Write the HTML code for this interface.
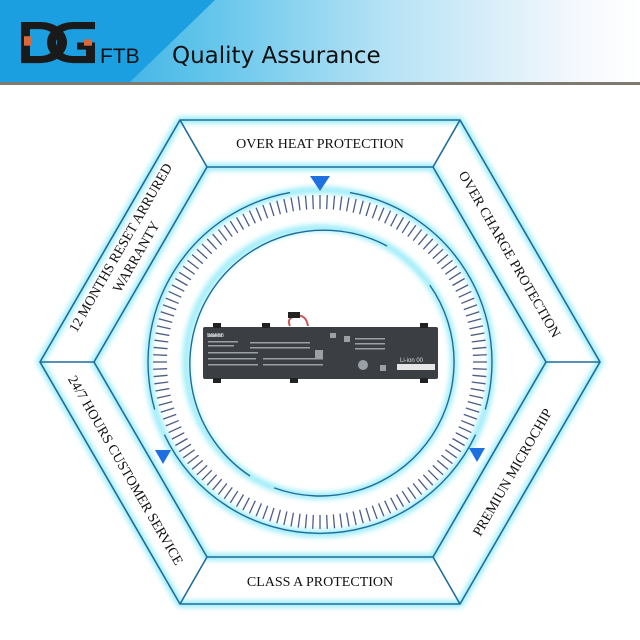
<!DOCTYPE html>
<html><head><meta charset="utf-8"><style>
html,body{margin:0;padding:0;background:#fff}
svg{display:block}
</style></head><body>
<svg width="640" height="640" viewBox="0 0 640 640" xmlns="http://www.w3.org/2000/svg">
<defs>
<linearGradient id="hd" x1="0" y1="0" x2="1" y2="0">
<stop offset="0" stop-color="#1b9fe0"/><stop offset="0.3" stop-color="#5cc2ea"/><stop offset="0.6" stop-color="#b5e2f5"/><stop offset="0.9" stop-color="#f4f8fd"/><stop offset="1" stop-color="#fff"/>
</linearGradient>
<filter id="glow" x="-10%" y="-10%" width="120%" height="120%"><feGaussianBlur stdDeviation="3"/></filter>
</defs>
<rect x="0" y="0" width="640" height="82" fill="url(#hd)"/>
<polygon points="0,0 215,0 130,82 0,82" fill="#1b9fe0"/>
<rect x="0" y="82" width="640" height="3" fill="#7f7a70"/>
<!-- logo -->
<g transform="translate(0,22) scale(1,0.79) translate(0,-27)">
<path d="M21 27 h20 a18 18 0 0 1 0 52 h-20 z M30 36 v34 h10 a9 9 0 0 0 0 -34 z" fill="#1a1a1a" fill-rule="evenodd"/>
<path d="M95 27 h-22 a18 18 0 0 0 0 52 h22 v-26 h-18 v9 h9 v8 h-13 a9 9 0 0 1 0 -34 h22 z" fill="#1a1a1a"/>
<rect x="24" y="45" width="7" height="12" fill="#d9683a"/>
<rect x="84" y="49" width="8" height="8" fill="#d9683a"/>
</g>
<text x="100" y="63" font-family="Liberation Sans, sans-serif" font-size="21" fill="#111">FTB</text>
<text x="172" y="63" font-family="DejaVu Sans, sans-serif" font-size="23" fill="#111">Quality Assurance</text>

<!-- glow -->
<g filter="url(#glow)" stroke="#6ee4f5" stroke-width="6" fill="none" opacity="0.8">
<polygon points="180,120 460,120 600,362 460,604 180,604 40,362"/>
<polygon points="207,167 433,167 546,362 433,557 207,557 94,362"/>
<circle cx="320" cy="362" r="172"/>
<circle cx="320" cy="362" r="134"/>
</g>
<g stroke="#1f6c9a" stroke-width="1.6" fill="none">
<polygon points="180,120 460,120 600,362 460,604 180,604 40,362"/>
<polygon points="207,167 433,167 546,362 433,557 207,557 94,362"/>
<line x1="180" y1="120" x2="207" y2="167"/><line x1="460" y1="120" x2="433" y2="167"/>
<line x1="600" y1="362" x2="546" y2="362"/><line x1="460" y1="604" x2="433" y2="557"/>
<line x1="180" y1="604" x2="207" y2="557"/><line x1="40" y1="362" x2="94" y2="362"/>
</g>
<g stroke="#1f6c9a" stroke-width="1.4" fill="none">
<path d="M349.9 192.6 A172 172 0 0 1 485.3 409.4"/>
<path d="M475.6 434.7 A172 172 0 0 1 164.4 434.7"/>
<path d="M154.7 409.4 A172 172 0 0 1 290.1 192.6"/>
<path d="M429.8 285.1 A134 134 0 0 1 274.2 487.9"/>
<path d="M250 476 A134 134 0 0 1 387 246"/>
</g>
<g fill="#1e6fe0">
<polygon points="310,176 330,176 320,191"/>
<polygon points="155,450 171,450 163,464"/>
<polygon points="469,448 485,448 477,462"/>
</g>
<!-- battery -->
<g>
<path d="M290 326 q-4 -8 6 -10 q10 -2 12 10" stroke="#c55" stroke-width="2" fill="none"/>
<rect x="288" y="312" width="12" height="6" fill="#222"/>
<rect x="203" y="327" width="235" height="52" rx="2" fill="#3b3e43"/>
<rect x="213" y="323" width="8" height="5" fill="#222"/><rect x="262" y="323" width="8" height="5" fill="#222"/><rect x="420" y="323" width="8" height="5" fill="#222"/>
<rect x="213" y="378" width="8" height="5" fill="#222"/><rect x="290" y="378" width="8" height="5" fill="#222"/><rect x="420" y="378" width="8" height="5" fill="#222"/>
<g fill="#9aa0a6">
<rect x="208" y="334" width="14" height="3"/><rect x="208" y="341" width="30" height="1.5"/><rect x="208" y="345" width="26" height="1.5"/><rect x="208" y="352" width="50" height="1.5"/><rect x="208" y="358" width="48" height="1.5"/><rect x="208" y="364" width="50" height="1.5"/>
<rect x="250" y="342" width="60" height="1.5"/><rect x="250" y="347" width="60" height="1.5"/><rect x="263" y="358" width="60" height="1.5"/><rect x="263" y="364" width="60" height="1.5"/>
<rect x="315" y="350" width="8" height="8"/><rect x="330" y="333" width="6" height="5"/>
<rect x="344" y="336" width="6" height="6"/><rect x="355" y="338" width="30" height="1.5"/><rect x="355" y="343" width="30" height="1.5"/><rect x="355" y="348" width="30" height="1.5"/>
<circle cx="363" cy="365" r="5"/><rect x="380" y="365" width="6" height="6"/>
<rect x="397" y="364" width="38" height="6" fill="#e6e6e6"/>
</g>
<text x="400" y="362" font-family="Liberation Sans, sans-serif" font-size="6" fill="#ddd">Li-ion 00</text>
<text x="207" y="337" font-family="Liberation Sans, sans-serif" font-size="5" fill="#ddd">DGFTB</text>
</g>
<!-- labels -->
<g font-family="Liberation Serif, serif" font-size="14" fill="#111" text-anchor="middle">
<text x="320" y="148">OVER HEAT PROTECTION</text>
<text x="320" y="586">CLASS A PROTECTION</text>
<g transform="translate(128 252) rotate(-60)"><text x="0" y="-4">12 MONTHS RESET ARRURED</text><text x="0" y="14">WARRANTY</text></g>
<g transform="translate(510 254) rotate(60)"><text x="0" y="5">OVER CHARGE PROTECTION</text></g>
<g transform="translate(126 470) rotate(60)"><text x="0" y="5">24/7 HOURS CUSTOMER SERVICE</text></g>
<g transform="translate(512 472) rotate(-60)"><text x="0" y="5">PREMIUN MICROCHIP</text></g>
</g>
<g stroke="#4d5c85" stroke-width="1.3" transform="translate(320 362)">
<line x1="0" y1="-153" x2="0" y2="-167" transform="rotate(0)"/><line x1="0" y1="-153" x2="0" y2="-167" transform="rotate(2.5)"/><line x1="0" y1="-153" x2="0" y2="-167" transform="rotate(5)"/><line x1="0" y1="-153" x2="0" y2="-167" transform="rotate(7.5)"/><line x1="0" y1="-153" x2="0" y2="-167" transform="rotate(10)"/><line x1="0" y1="-153" x2="0" y2="-167" transform="rotate(12.5)"/><line x1="0" y1="-153" x2="0" y2="-167" transform="rotate(15)"/><line x1="0" y1="-153" x2="0" y2="-167" transform="rotate(17.5)"/><line x1="0" y1="-153" x2="0" y2="-167" transform="rotate(20)"/><line x1="0" y1="-153" x2="0" y2="-167" transform="rotate(22.5)"/><line x1="0" y1="-153" x2="0" y2="-167" transform="rotate(25)"/><line x1="0" y1="-153" x2="0" y2="-167" transform="rotate(27.5)"/><line x1="0" y1="-153" x2="0" y2="-167" transform="rotate(30)"/><line x1="0" y1="-153" x2="0" y2="-167" transform="rotate(32.5)"/><line x1="0" y1="-153" x2="0" y2="-167" transform="rotate(35)"/><line x1="0" y1="-153" x2="0" y2="-167" transform="rotate(37.5)"/><line x1="0" y1="-153" x2="0" y2="-167" transform="rotate(40)"/><line x1="0" y1="-153" x2="0" y2="-167" transform="rotate(42.5)"/><line x1="0" y1="-153" x2="0" y2="-167" transform="rotate(45)"/><line x1="0" y1="-153" x2="0" y2="-167" transform="rotate(47.5)"/><line x1="0" y1="-153" x2="0" y2="-167" transform="rotate(50)"/><line x1="0" y1="-153" x2="0" y2="-167" transform="rotate(52.5)"/><line x1="0" y1="-153" x2="0" y2="-167" transform="rotate(55)"/><line x1="0" y1="-153" x2="0" y2="-167" transform="rotate(57.5)"/><line x1="0" y1="-153" x2="0" y2="-167" transform="rotate(60)"/><line x1="0" y1="-153" x2="0" y2="-167" transform="rotate(62.5)"/><line x1="0" y1="-153" x2="0" y2="-167" transform="rotate(65)"/><line x1="0" y1="-153" x2="0" y2="-167" transform="rotate(67.5)"/><line x1="0" y1="-153" x2="0" y2="-167" transform="rotate(70)"/><line x1="0" y1="-153" x2="0" y2="-167" transform="rotate(72.5)"/><line x1="0" y1="-153" x2="0" y2="-167" transform="rotate(75)"/><line x1="0" y1="-153" x2="0" y2="-167" transform="rotate(77.5)"/><line x1="0" y1="-153" x2="0" y2="-167" transform="rotate(80)"/><line x1="0" y1="-153" x2="0" y2="-167" transform="rotate(82.5)"/><line x1="0" y1="-153" x2="0" y2="-167" transform="rotate(85)"/><line x1="0" y1="-153" x2="0" y2="-167" transform="rotate(87.5)"/><line x1="0" y1="-153" x2="0" y2="-167" transform="rotate(90)"/><line x1="0" y1="-153" x2="0" y2="-167" transform="rotate(92.5)"/><line x1="0" y1="-153" x2="0" y2="-167" transform="rotate(95)"/><line x1="0" y1="-153" x2="0" y2="-167" transform="rotate(97.5)"/><line x1="0" y1="-153" x2="0" y2="-167" transform="rotate(100)"/><line x1="0" y1="-153" x2="0" y2="-167" transform="rotate(102.5)"/><line x1="0" y1="-153" x2="0" y2="-167" transform="rotate(105)"/><line x1="0" y1="-153" x2="0" y2="-167" transform="rotate(107.5)"/><line x1="0" y1="-153" x2="0" y2="-167" transform="rotate(110)"/><line x1="0" y1="-153" x2="0" y2="-167" transform="rotate(112.5)"/><line x1="0" y1="-153" x2="0" y2="-167" transform="rotate(115)"/><line x1="0" y1="-153" x2="0" y2="-167" transform="rotate(117.5)"/><line x1="0" y1="-153" x2="0" y2="-167" transform="rotate(120)"/><line x1="0" y1="-153" x2="0" y2="-167" transform="rotate(122.5)"/><line x1="0" y1="-153" x2="0" y2="-167" transform="rotate(125)"/><line x1="0" y1="-153" x2="0" y2="-167" transform="rotate(127.5)"/><line x1="0" y1="-153" x2="0" y2="-167" transform="rotate(130)"/><line x1="0" y1="-153" x2="0" y2="-167" transform="rotate(132.5)"/><line x1="0" y1="-153" x2="0" y2="-167" transform="rotate(135)"/><line x1="0" y1="-153" x2="0" y2="-167" transform="rotate(137.5)"/><line x1="0" y1="-153" x2="0" y2="-167" transform="rotate(140)"/><line x1="0" y1="-153" x2="0" y2="-167" transform="rotate(142.5)"/><line x1="0" y1="-153" x2="0" y2="-167" transform="rotate(145)"/><line x1="0" y1="-153" x2="0" y2="-167" transform="rotate(147.5)"/><line x1="0" y1="-153" x2="0" y2="-167" transform="rotate(150)"/><line x1="0" y1="-153" x2="0" y2="-167" transform="rotate(152.5)"/><line x1="0" y1="-153" x2="0" y2="-167" transform="rotate(155)"/><line x1="0" y1="-153" x2="0" y2="-167" transform="rotate(157.5)"/><line x1="0" y1="-153" x2="0" y2="-167" transform="rotate(160)"/><line x1="0" y1="-153" x2="0" y2="-167" transform="rotate(162.5)"/><line x1="0" y1="-153" x2="0" y2="-167" transform="rotate(165)"/><line x1="0" y1="-153" x2="0" y2="-167" transform="rotate(167.5)"/><line x1="0" y1="-153" x2="0" y2="-167" transform="rotate(170)"/><line x1="0" y1="-153" x2="0" y2="-167" transform="rotate(172.5)"/><line x1="0" y1="-153" x2="0" y2="-167" transform="rotate(175)"/><line x1="0" y1="-153" x2="0" y2="-167" transform="rotate(177.5)"/><line x1="0" y1="-153" x2="0" y2="-167" transform="rotate(180)"/><line x1="0" y1="-153" x2="0" y2="-167" transform="rotate(182.5)"/><line x1="0" y1="-153" x2="0" y2="-167" transform="rotate(185)"/><line x1="0" y1="-153" x2="0" y2="-167" transform="rotate(187.5)"/><line x1="0" y1="-153" x2="0" y2="-167" transform="rotate(190)"/><line x1="0" y1="-153" x2="0" y2="-167" transform="rotate(192.5)"/><line x1="0" y1="-153" x2="0" y2="-167" transform="rotate(195)"/><line x1="0" y1="-153" x2="0" y2="-167" transform="rotate(197.5)"/><line x1="0" y1="-153" x2="0" y2="-167" transform="rotate(200)"/><line x1="0" y1="-153" x2="0" y2="-167" transform="rotate(202.5)"/><line x1="0" y1="-153" x2="0" y2="-167" transform="rotate(205)"/><line x1="0" y1="-153" x2="0" y2="-167" transform="rotate(207.5)"/><line x1="0" y1="-153" x2="0" y2="-167" transform="rotate(210)"/><line x1="0" y1="-153" x2="0" y2="-167" transform="rotate(212.5)"/><line x1="0" y1="-153" x2="0" y2="-167" transform="rotate(215)"/><line x1="0" y1="-153" x2="0" y2="-167" transform="rotate(217.5)"/><line x1="0" y1="-153" x2="0" y2="-167" transform="rotate(220)"/><line x1="0" y1="-153" x2="0" y2="-167" transform="rotate(222.5)"/><line x1="0" y1="-153" x2="0" y2="-167" transform="rotate(225)"/><line x1="0" y1="-153" x2="0" y2="-167" transform="rotate(227.5)"/><line x1="0" y1="-153" x2="0" y2="-167" transform="rotate(230)"/><line x1="0" y1="-153" x2="0" y2="-167" transform="rotate(232.5)"/><line x1="0" y1="-153" x2="0" y2="-167" transform="rotate(235)"/><line x1="0" y1="-153" x2="0" y2="-167" transform="rotate(237.5)"/><line x1="0" y1="-153" x2="0" y2="-167" transform="rotate(240)"/><line x1="0" y1="-153" x2="0" y2="-167" transform="rotate(242.5)"/><line x1="0" y1="-153" x2="0" y2="-167" transform="rotate(245)"/><line x1="0" y1="-153" x2="0" y2="-167" transform="rotate(247.5)"/><line x1="0" y1="-153" x2="0" y2="-167" transform="rotate(250)"/><line x1="0" y1="-153" x2="0" y2="-167" transform="rotate(252.5)"/><line x1="0" y1="-153" x2="0" y2="-167" transform="rotate(255)"/><line x1="0" y1="-153" x2="0" y2="-167" transform="rotate(257.5)"/><line x1="0" y1="-153" x2="0" y2="-167" transform="rotate(260)"/><line x1="0" y1="-153" x2="0" y2="-167" transform="rotate(262.5)"/><line x1="0" y1="-153" x2="0" y2="-167" transform="rotate(265)"/><line x1="0" y1="-153" x2="0" y2="-167" transform="rotate(267.5)"/><line x1="0" y1="-153" x2="0" y2="-167" transform="rotate(270)"/><line x1="0" y1="-153" x2="0" y2="-167" transform="rotate(272.5)"/><line x1="0" y1="-153" x2="0" y2="-167" transform="rotate(275)"/><line x1="0" y1="-153" x2="0" y2="-167" transform="rotate(277.5)"/><line x1="0" y1="-153" x2="0" y2="-167" transform="rotate(280)"/><line x1="0" y1="-153" x2="0" y2="-167" transform="rotate(282.5)"/><line x1="0" y1="-153" x2="0" y2="-167" transform="rotate(285)"/><line x1="0" y1="-153" x2="0" y2="-167" transform="rotate(287.5)"/><line x1="0" y1="-153" x2="0" y2="-167" transform="rotate(290)"/><line x1="0" y1="-153" x2="0" y2="-167" transform="rotate(292.5)"/><line x1="0" y1="-153" x2="0" y2="-167" transform="rotate(295)"/><line x1="0" y1="-153" x2="0" y2="-167" transform="rotate(297.5)"/><line x1="0" y1="-153" x2="0" y2="-167" transform="rotate(300)"/><line x1="0" y1="-153" x2="0" y2="-167" transform="rotate(302.5)"/><line x1="0" y1="-153" x2="0" y2="-167" transform="rotate(305)"/><line x1="0" y1="-153" x2="0" y2="-167" transform="rotate(307.5)"/><line x1="0" y1="-153" x2="0" y2="-167" transform="rotate(310)"/><line x1="0" y1="-153" x2="0" y2="-167" transform="rotate(312.5)"/><line x1="0" y1="-153" x2="0" y2="-167" transform="rotate(315)"/><line x1="0" y1="-153" x2="0" y2="-167" transform="rotate(317.5)"/><line x1="0" y1="-153" x2="0" y2="-167" transform="rotate(320)"/><line x1="0" y1="-153" x2="0" y2="-167" transform="rotate(322.5)"/><line x1="0" y1="-153" x2="0" y2="-167" transform="rotate(325)"/><line x1="0" y1="-153" x2="0" y2="-167" transform="rotate(327.5)"/><line x1="0" y1="-153" x2="0" y2="-167" transform="rotate(330)"/><line x1="0" y1="-153" x2="0" y2="-167" transform="rotate(332.5)"/><line x1="0" y1="-153" x2="0" y2="-167" transform="rotate(335)"/><line x1="0" y1="-153" x2="0" y2="-167" transform="rotate(337.5)"/><line x1="0" y1="-153" x2="0" y2="-167" transform="rotate(340)"/><line x1="0" y1="-153" x2="0" y2="-167" transform="rotate(342.5)"/><line x1="0" y1="-153" x2="0" y2="-167" transform="rotate(345)"/><line x1="0" y1="-153" x2="0" y2="-167" transform="rotate(347.5)"/><line x1="0" y1="-153" x2="0" y2="-167" transform="rotate(350)"/><line x1="0" y1="-153" x2="0" y2="-167" transform="rotate(352.5)"/><line x1="0" y1="-153" x2="0" y2="-167" transform="rotate(355)"/><line x1="0" y1="-153" x2="0" y2="-167" transform="rotate(357.5)"/>
</g>
</svg>
</body></html>
